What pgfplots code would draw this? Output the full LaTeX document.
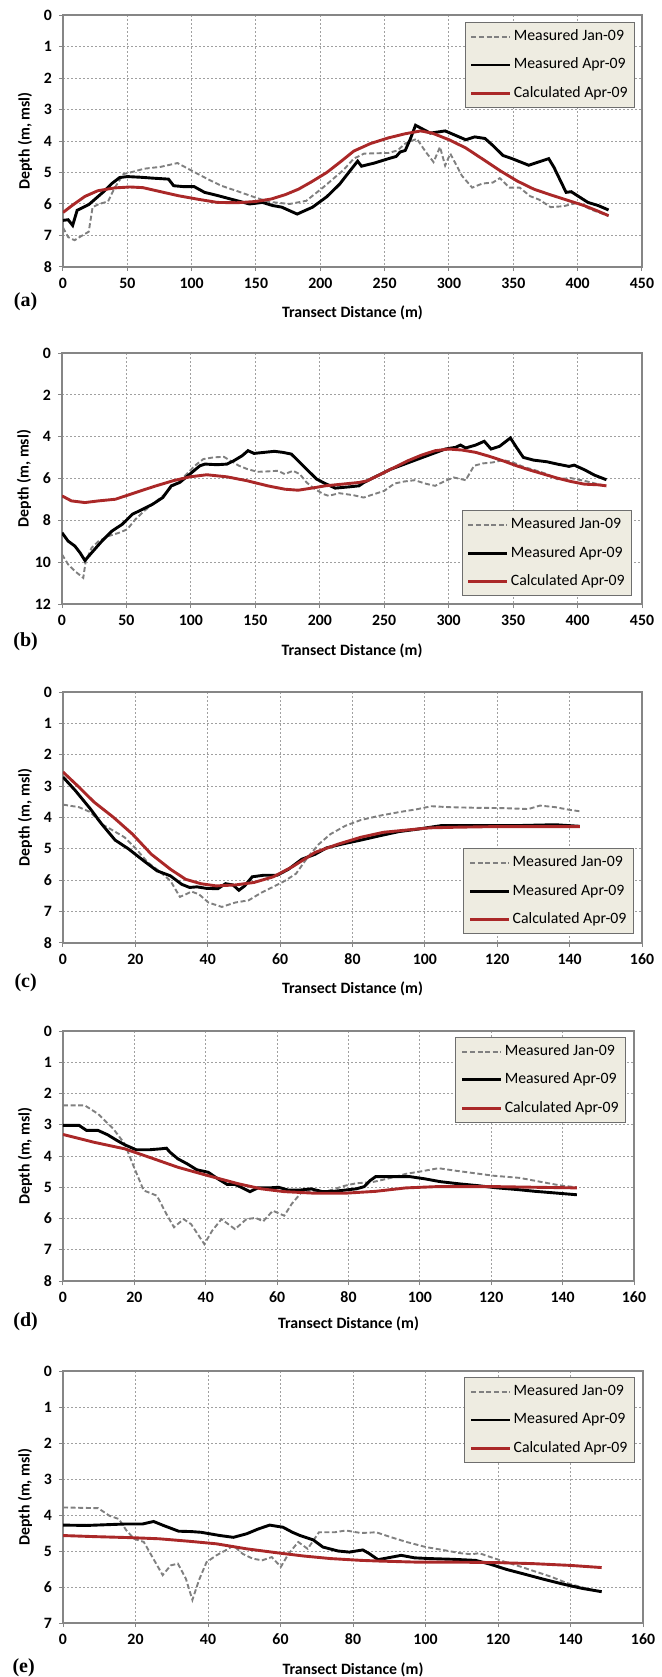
\documentclass[border=0pt]{standalone}
\usepackage{fontspec}
\setmainfont{Carlito}
\newfontfamily\letterfont{Liberation Serif}
\usepackage{pgfplots}
\pgfplotsset{compat=1.18}

\definecolor{calcred}{RGB}{170,40,40}
\definecolor{jangray}{RGB}{128,128,128}
\definecolor{gridgray}{RGB}{160,160,160}
\definecolor{framegray}{RGB}{134,134,134}
\definecolor{legfill}{RGB}{238,236,225}
\definecolor{legdraw}{RGB}{110,110,110}

\pgfplotsset{
  transect/.style={
    scale only axis,
    y dir=reverse,
    axis line style={framegray, line width=0.6pt},
    tick style={framegray, line width=0.5pt},
    tick align=outside,
    major tick length=2pt,
    xtick pos=bottom,
    ytick pos=left,
    grid=major,
    major grid style={gridgray, line width=0.5pt, dash pattern=on 1pt off 1pt},
    ticklabel style={font=\fontsize{7.9}{9}\selectfont\bfseries},
    /pgf/number format/assume math mode=true,
    label style={font=\fontsize{7.9}{9}\selectfont\bfseries},
    xlabel={Transect Distance (m)},
    ylabel={Depth (m, msl)},
    legend cell align=left,
    legend style={draw=legdraw, fill=legfill,
      font=\fontsize{7.9}{9}\selectfont,
      inner xsep=2.5pt, inner ysep=2.6pt, row sep=5.15pt,
      nodes={inner sep=1pt, text height=5.5pt, text depth=1.5pt}},
    legend image code/.code={\draw[#1] (0pt,0pt) -- (19.5pt,0pt);},
  },
  janline/.style={jangray, line width=0.95pt, dash pattern=on 2.5pt off 1.3pt},
  aprline/.style={black, line width=1.45pt},
  calcline/.style={calcred, line width=1.45pt},
}

\begin{document}
\begin{tikzpicture}
\useasboundingbox (0,0) rectangle (330.5pt,-838.5pt);

% ---------------- (a) ----------------
\begin{axis}[transect,
  at={(31.5pt,-7.5pt)}, anchor=north west,
  width=289.5pt, height=126pt,
  xmin=0, xmax=450, ymin=0, ymax=8,
  xtick={0,50,...,450}, ytick={0,1,...,8},
  xlabel style={at={(axis description cs:0.5,-0.183)}, anchor=center},
  ylabel style={at={(axis description cs:-0.0656,0.5)}, anchor=center},
  legend style={at={(0.988,0.972)}, anchor=north east}]
\addplot[janline] coordinates {
(0,6.75)(4,7.05)(9,7.15)(15,7.0)(20,6.88)(23,6.1)(28,6.0)(35,5.92)(40,5.5)(47,5.05)
(55,4.97)(63,4.88)(76,4.82)(89,4.7)(99.5,4.93)(112,5.2)(123,5.42)(136,5.6)(150,5.8)
(160,5.93)(176,6.0)(189,5.9)(202,5.48)(210,5.2)(218,4.92)(226,4.56)(234,4.4)(253,4.38)
(260,4.3)(266,4.08)(275,3.93)(282,4.35)(288,4.67)(293,4.19)(297,4.78)(301,4.4)(310,5.1)
(318,5.48)(326,5.35)(334,5.32)(339.5,5.18)(347,5.48)(355,5.48)(363,5.75)(370,5.86)
(379,6.1)(389,6.07)(400,5.96)(410,6.17)(424,6.38)};
\addlegendentry{Measured Jan-09}
\addplot[aprline] coordinates {
(0,6.52)(4,6.5)(7.5,6.68)(11,6.2)(20,6.02)(31,5.63)(38,5.35)(44,5.16)(50,5.13)(60,5.15)
(70,5.18)(82,5.21)(86,5.42)(94,5.45)(102,5.45)(110,5.63)(120,5.73)(131,5.85)(145,6.0)
(155,5.95)(163,6.05)(170,6.1)(182,6.32)(194,6.1)(205,5.77)(215,5.37)(223,4.95)(229,4.64)
(232,4.8)(242,4.7)(253,4.56)(259,4.49)(262,4.35)(266,4.3)(270,3.93)(274,3.5)(279,3.61)
(285.5,3.75)(297,3.68)(305,3.82)(313,3.96)(320,3.87)(328,3.92)(334,4.14)(342,4.46)
(349,4.56)(362,4.77)(377.5,4.56)(381.5,4.83)(391,5.63)(395,5.61)(408,5.95)(416,6.05)(424,6.19)};
\addlegendentry{Measured Apr-09}
\addplot[calcline] coordinates {
(0,6.27)(7,6.05)(17,5.76)(27,5.58)(40,5.49)(52,5.46)(62,5.48)(77,5.62)(90,5.74)(105,5.85)
(120,5.95)(135,5.96)(150,5.92)(162,5.84)(173,5.7)(183,5.53)(193,5.3)(205,5.0)(216,4.65)
(226,4.32)(239,4.08)(253,3.9)(266,3.77)(278,3.68)(287,3.75)(300,3.96)(313,4.22)(326,4.57)
(340,4.95)(353,5.27)(366,5.53)(379,5.71)(392,5.88)(405,6.05)(416,6.23)(424,6.37)};
\addlegendentry{Calculated Apr-09}
\end{axis}
\node[font=\letterfont\bfseries\fontsize{10}{12}\selectfont] at (12.8pt,-151pt) {(a)};

% ---------------- (b) ----------------
\begin{axis}[transect,
  at={(31pt,-176.5pt)}, anchor=north west,
  width=290pt, height=125.5pt,
  xmin=0, xmax=450, ymin=0, ymax=12,
  xtick={0,50,...,450}, ytick={0,2,...,12},
  xlabel style={at={(axis description cs:0.5,-0.186)}, anchor=center},
  ylabel style={at={(axis description cs:-0.0655,0.5)}, anchor=center},
  legend style={at={(0.983,0.032)}, anchor=south east}]
\addplot[janline] coordinates {
(0,9.63)(4.7,10.1)(10,10.43)(16.5,10.75)(18.4,9.95)(23,9.31)(28.3,9.0)(36.2,8.75)(44,8.6)
(50.6,8.43)(57,7.95)(63.8,7.55)(70.3,7.23)(78.2,6.83)(84.8,6.43)(91.3,6.11)(98,5.71)
(103,5.39)(109.7,5.07)(117.6,4.99)(125.5,4.96)(130.7,5.15)(137.3,5.39)(143.8,5.55)
(151.7,5.68)(159.6,5.66)(167.5,5.63)(172.8,5.79)(179.3,5.63)(184.5,5.79)(189.8,6.19)
(196.3,6.51)(203,6.75)(207,6.83)(215,6.7)(226.3,6.8)(234,6.91)(242,6.75)(250,6.59)
(258,6.24)(265.8,6.14)(273.7,6.08)(281.6,6.24)(289.5,6.35)(297.4,6.11)(304,5.95)
(313.2,6.08)(319.7,5.39)(326.3,5.28)(334.2,5.23)(342,5.12)(348.7,5.2)(357.9,5.44)
(368.4,5.63)(376.3,5.79)(384.2,6.03)(394.7,5.98)(405.3,6.11)(415.8,6.27)(422.4,6.35)};
\addlegendentry{Measured Jan-09}
\addplot[aprline] coordinates {
(0,8.59)(4.7,8.99)(10,9.23)(14,9.55)(17.8,9.92)(23,9.55)(31,8.99)(38.8,8.51)(46.7,8.19)
(54.6,7.71)(62.5,7.47)(70.3,7.23)(78.2,6.91)(84.8,6.35)(91.3,6.19)(99.2,5.79)(107,5.39)
(111,5.31)(120.2,5.34)(128,5.31)(133.3,5.15)(139.8,4.91)(144.3,4.67)(149,4.8)(156.9,4.75)
(164.8,4.7)(171.4,4.75)(177.9,4.83)(183.2,5.15)(191,5.63)(197.6,6.03)(204.2,6.24)
(212,6.46)(222.6,6.4)(230.4,6.35)(234.2,6.19)(244.7,5.87)(255.3,5.55)(265.8,5.31)
(276.3,5.07)(286.8,4.83)(297.4,4.59)(305.3,4.51)(309.2,4.4)(313.2,4.54)(321,4.4)
(327.6,4.22)(332.9,4.59)(339.5,4.46)(347.9,4.06)(352.6,4.51)(357.9,4.99)(365.8,5.12)
(376.3,5.2)(384.2,5.31)(393.4,5.42)(397.4,5.36)(405.3,5.58)(413.2,5.84)(422.4,6.06)};
\addlegendentry{Measured Apr-09}
\addplot[calcline] coordinates {
(0,6.83)(7.3,7.07)(17.8,7.15)(28.3,7.07)(41.5,6.99)(49.3,6.83)(62.5,6.56)(73,6.35)
(86,6.11)(99.2,5.92)(112.3,5.82)(128,5.92)(143.8,6.11)(159.6,6.35)(172.7,6.51)
(183.2,6.56)(193.7,6.46)(204.2,6.35)(217.3,6.27)(230.4,6.19)(236.8,6.11)(247.4,5.79)
(257.9,5.47)(268.4,5.15)(279,4.88)(289.5,4.67)(300,4.59)(310.5,4.64)(321,4.75)
(331.6,4.94)(342,5.15)(352.6,5.39)(363.2,5.6)(373.7,5.79)(384.2,5.98)(394.7,6.14)
(405.3,6.27)(415.8,6.3)(422.4,6.35)};
\addlegendentry{Calculated Apr-09}
\end{axis}
\node[font=\letterfont\bfseries\fontsize{10}{12}\selectfont] at (12.8pt,-320.8pt) {(b)};

% ---------------- (c) ----------------
\begin{axis}[transect,
  at={(31.5pt,-346pt)}, anchor=north west,
  width=289.5pt, height=125.5pt,
  xmin=0, xmax=160, ymin=0, ymax=8,
  xtick={0,20,...,160}, ytick={0,1,...,8},
  xlabel style={at={(axis description cs:0.5,-0.183)}, anchor=center},
  ylabel style={at={(axis description cs:-0.0656,0.5)}, anchor=center},
  legend style={at={(0.986,0.036)}, anchor=south east}]
\addplot[janline] coordinates {
(0,3.59)(4.4,3.67)(7.6,3.83)(10.7,4.21)(13.9,4.42)(17,4.63)(20.2,5.0)(23.4,5.43)(26.5,5.7)
(29.7,6.02)(32.3,6.53)(33.9,6.45)(35.5,6.36)(37.6,6.45)(40.2,6.71)(43.9,6.85)(47.6,6.71)
(51.3,6.64)(54.9,6.39)(58.1,6.21)(61.3,6.02)(64.4,5.79)(67.6,5.27)(70.7,4.85)(73.9,4.53)
(78.1,4.26)(82.3,4.08)(87.6,3.94)(92.8,3.83)(98.1,3.73)(101.8,3.64)(106.5,3.67)
(113.9,3.69)(121.3,3.7)(128.6,3.73)(131.8,3.62)(136,3.67)(140.2,3.76)(142.8,3.8)};
\addlegendentry{Measured Jan-09}
\addplot[aprline] coordinates {
(0,2.71)(3.4,3.14)(7.6,3.73)(10.7,4.21)(14.4,4.72)(18.1,5.0)(22.3,5.38)(26,5.7)(29.7,5.86)
(32.8,6.13)(35,6.23)(37,6.21)(39.7,6.26)(42.8,6.27)(44.9,6.11)(47,6.15)(48.6,6.32)
(50.2,6.18)(52.3,5.89)(55.5,5.84)(59.2,5.84)(62.3,5.65)(66,5.33)(69.7,5.17)(72.8,4.97)
(77,4.85)(82.3,4.72)(87.6,4.58)(92.8,4.45)(98.1,4.37)(104.4,4.26)(113.9,4.26)
(124.4,4.26)(136,4.23)(142.8,4.28)};
\addlegendentry{Measured Apr-09}
\addplot[calcline] coordinates {
(0,2.55)(4.4,3.03)(8.6,3.51)(13.9,3.99)(19.2,4.53)(24.4,5.17)(29.7,5.65)(33.9,5.97)
(38.1,6.11)(42.3,6.18)(47.6,6.15)(52.8,6.07)(58.1,5.89)(63.4,5.57)(69.7,5.11)(76,4.85)
(82.3,4.63)(88.6,4.47)(94.9,4.4)(101.3,4.33)(108.6,4.31)(119.2,4.29)(129.7,4.29)(142.8,4.29)};
\addlegendentry{Calculated Apr-09}
\end{axis}
\node[font=\letterfont\bfseries\fontsize{10}{12}\selectfont] at (12.8pt,-491.5pt) {(c)};

% ---------------- (d) ----------------
\begin{axis}[transect,
  at={(31.5pt,-515.5pt)}, anchor=north west,
  width=285.5pt, height=125pt,
  xmin=0, xmax=160, ymin=0, ymax=8,
  xtick={0,20,...,160}, ytick={0,1,...,8},
  xlabel style={at={(axis description cs:0.5,-0.172)}, anchor=center},
  ylabel style={at={(axis description cs:-0.0665,0.5)}, anchor=center},
  legend style={at={(0.986,0.976)}, anchor=north east}]
\addplot[janline] coordinates {
(0,2.38)(6.1,2.38)(9.8,2.65)(14.1,3.13)(17.3,3.61)(19.9,4.36)(22.6,5.1)(26.3,5.27)(29,5.86)
(31.1,6.28)(33.8,6.02)(35.9,6.18)(39.6,6.82)(41.8,6.39)(44.4,6.02)(48.2,6.34)(51.4,6.02)
(54,5.98)(56.1,6.09)(58.8,5.75)(62,5.91)(64.1,5.53)(67.3,5.1)(71.6,5.16)(74.8,5.1)
(79,4.95)(82.2,4.87)(86.5,4.84)(90.8,4.73)(96.1,4.57)(100.4,4.49)(105.2,4.39)(110,4.47)
(115.3,4.55)(120.6,4.63)(128,4.7)(134.5,4.84)(139.8,4.95)(144,5.0)};
\addlegendentry{Measured Jan-09}
\addplot[aprline] coordinates {
(0,3.02)(4.5,3.02)(6.6,3.18)(8.2,3.18)(9.8,3.18)(12.5,3.32)(15.1,3.5)(17.3,3.64)(20.5,3.8)
(24.2,3.8)(27.4,3.77)(29,3.75)(30,3.88)(32.2,4.09)(34.8,4.25)(37.5,4.44)(40.7,4.52)
(43.4,4.73)(46,4.91)(48.2,4.91)(50.3,5.02)(52.4,5.14)(54.6,5.02)(57.7,5.02)(60.4,5.0)
(63.1,5.09)(66.3,5.09)(69.5,5.05)(72.7,5.14)(75.9,5.13)(79,5.09)(82.2,5.05)(84.4,4.98)
(86,4.79)(87.6,4.66)(91.8,4.66)(97.2,4.66)(101.4,4.73)(105.7,4.82)(111,4.89)(116.4,4.95)
(121.7,5.02)(127,5.07)(132.3,5.13)(137.7,5.18)(144,5.24)};
\addlegendentry{Measured Apr-09}
\addplot[calcline] coordinates {
(0,3.31)(8.7,3.56)(17.3,3.77)(24.7,4.06)(32.2,4.36)(40.7,4.63)(49.2,4.89)(55.6,5.05)
(62,5.14)(70.5,5.19)(79,5.19)(87.6,5.13)(96.1,5.02)(104.6,4.98)(113.2,4.98)(121.7,4.98)
(132.3,5.0)(144,5.02)};
\addlegendentry{Calculated Apr-09}
\end{axis}
\node[font=\letterfont\bfseries\fontsize{10}{12}\selectfont] at (12.8pt,-660.8pt) {(d)};

% ---------------- (e) ----------------
\begin{axis}[transect,
  at={(31.5pt,-685.5pt)}, anchor=north west,
  width=290pt, height=126pt,
  xmin=0, xmax=160, ymin=0, ymax=7,
  xtick={0,20,...,160}, ytick={0,1,...,7},
  xlabel style={at={(axis description cs:0.5,-0.187)}, anchor=center},
  ylabel style={at={(axis description cs:-0.0655,0.5)}, anchor=center},
  legend style={at={(0.986,0.976)}, anchor=north east}]
\addplot[janline] coordinates {
(0,3.79)(9.7,3.81)(12.8,4.02)(15.4,4.11)(17.5,4.43)(19.6,4.66)(22.3,4.75)(24.9,5.21)
(27.5,5.67)(29.7,5.4)(31.7,5.35)(33.9,5.77)(35.7,6.36)(37.5,5.81)(39.6,5.31)(42.3,5.12)
(44.9,4.98)(47,4.85)(49.6,5.08)(52.3,5.21)(54.9,5.26)(57.6,5.17)(60.1,5.44)(62.2,5.08)
(64.9,4.75)(67.5,4.94)(70.6,4.48)(74.9,4.48)(78,4.43)(82.2,4.5)(86.4,4.48)(90.6,4.62)
(94.8,4.75)(100.1,4.89)(105.3,4.98)(109.6,5.06)(112.7,5.09)(114.8,5.06)(118,5.17)
(122.2,5.31)(126.4,5.44)(130.6,5.58)(134.8,5.72)(139,5.89)(143.2,6.01)(146.4,6.09)};
\addlegendentry{Measured Jan-09}
\addplot[aprline] coordinates {
(0,4.28)(6.5,4.29)(11.8,4.27)(17.1,4.25)(21.9,4.25)(25,4.18)(27.7,4.29)(31.9,4.45)
(35.4,4.46)(38.1,4.48)(43.3,4.57)(47,4.62)(50.7,4.52)(53.8,4.39)(57,4.28)(60.7,4.34)
(63.3,4.48)(65.4,4.57)(69,4.69)(71.7,4.89)(75.9,5.0)(79,5.03)(82.7,4.97)(84.3,5.06)
(86.9,5.24)(89.6,5.19)(93.3,5.12)(97,5.19)(101.1,5.21)(107.5,5.23)(113.8,5.26)(118,5.37)
(122.3,5.51)(127.6,5.65)(132.8,5.79)(138,5.92)(143.3,6.04)(148.6,6.13)};
\addlegendentry{Measured Apr-09}
\addplot[calcline] coordinates {
(0,4.57)(8.6,4.6)(19.1,4.63)(26.5,4.66)(34.9,4.73)(42.3,4.8)(50.7,4.94)(59.1,5.05)
(66.5,5.14)(73.8,5.21)(82.2,5.26)(87.5,5.28)(98,5.31)(108.6,5.31)(119,5.32)(129.5,5.35)
(140,5.4)(148.6,5.46)};
\addlegendentry{Calculated Apr-09}
\end{axis}
\node[font=\letterfont\bfseries\fontsize{10}{12}\selectfont] at (11.8pt,-834pt) {(e)};
\end{tikzpicture}
\end{document}
